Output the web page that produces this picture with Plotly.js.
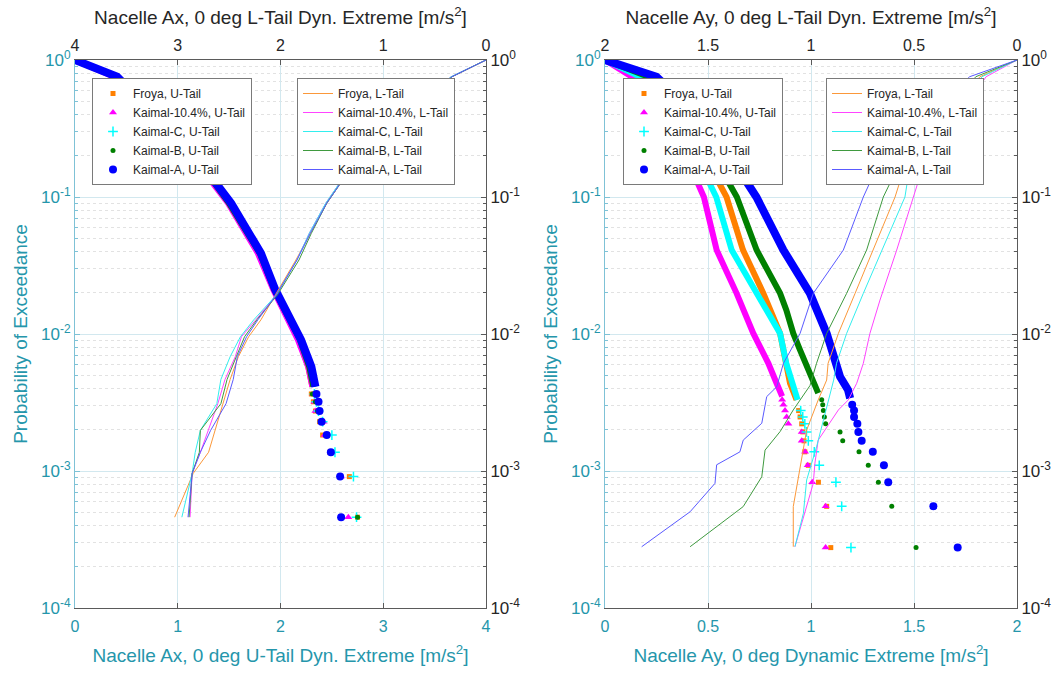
<!DOCTYPE html>
<html><head><meta charset="utf-8">
<script src="https://cdn.plot.ly/plotly-3.0.1.min.js"></script>
<style>html,body{margin:0;padding:0;background:#fff}#chart{width:1063px;height:674px}</style>
</head><body><div id="chart"></div>
<script>
// ================= DATA =================
const seriesNames = ['Froya', 'Kaimal-10.4%', 'Kaimal-C', 'Kaimal-B', 'Kaimal-A'];
const yTickVals = [0.0001, 0.001, 0.01, 0.1, 1];
const yTickText = ['10<sup>-4</sup>', '10<sup>-3</sup>', '10<sup>-2</sup>', '10<sup>-1</sup>', '10<sup>0</sup>'];
const axTickVals = [0, 1, 2, 3, 4];
const ayTickVals = [0, 0.5, 1, 1.5, 2];
const ayTickText = ['0', '0.5', '1', '1.5', '2'];

// ---- Left panel: Nacelle Ax, U-tail (dense part of the sample) ----
const axUDenseP     = [1, 0.755, 0.35, 0.145, 0.09, 0.0574, 0.0388, 0.021, 0.0134, 0.00904, 0.00577, 0.00412];
const axUDenseFroya = [0, 0.40, 0.84, 1.29, 1.50, 1.66, 1.79, 1.94, 2.07, 2.18, 2.27, 2.31];
const axUDenseK104  = [0, 0.38, 0.82, 1.28, 1.49, 1.65, 1.78, 1.93, 2.06, 2.17, 2.27, 2.31];
const axUDenseKC    = [0, 0.40, 0.84, 1.30, 1.51, 1.67, 1.80, 1.95, 2.08, 2.19, 2.29, 2.33];
const axUDenseKB    = [0, 0.40, 0.84, 1.30, 1.50, 1.66, 1.80, 1.94, 2.07, 2.19, 2.28, 2.32];
const axUDenseKA    = [0, 0.41, 0.85, 1.31, 1.52, 1.68, 1.81, 1.95, 2.08, 2.20, 2.30, 2.34];
// ---- Left panel: U-tail (sparse extreme points) ----
const axUTailP     = [0.00365, 0.0032, 0.00274, 0.00229, 0.00183, 0.00137, 0.00091, 0.00046];
const axUTailFroya = [2.30, 2.32, 2.34, 2.38, 2.41, 2.48, 2.67, 2.75];
const axUTailK104  = [2.32, 2.33, 2.34, 2.42, 2.43, 2.50, 2.59, 2.66];
const axUTailKC    = [2.33, 2.35, 2.37, 2.41, 2.50, 2.53, 2.71, 2.74];
const axUTailKB    = [2.31, 2.34, 2.36, 2.40, 2.44, 2.49, 2.58, 2.75];
const axUTailKA    = [2.35, 2.37, 2.38, 2.40, 2.45, 2.49, 2.58, 2.59];
// ---- Left panel: L-tail (top axis, reversed) ----
const axLP     = [1, 0.755, 0.35, 0.145, 0.09, 0.0543, 0.0347, 0.0193, 0.0127, 0.00955, 0.00683, 0.00466, 0.0031, 0.00198, 0.00137, 0.00096, 0.00046];
const axLFroya = [0, 0.33, 0.85, 1.36, 1.55, 1.71, 1.85, 2.05, 2.19, 2.31, 2.41, 2.49, 2.56, 2.64, 2.70, 2.85, 3.03];
const axLK104  = [0, 0.34, 0.86, 1.37, 1.56, 1.72, 1.84, 2.04, 2.24, 2.38, 2.44, 2.54, 2.61, 2.70, 2.78, 2.86, 2.88];
const axLKC    = [0, 0.34, 0.86, 1.37, 1.56, 1.72, 1.84, 2.04, 2.26, 2.39, 2.49, 2.58, 2.62, 2.78, 2.83, 2.86, 2.96];
const axLKB    = [0, 0.33, 0.85, 1.36, 1.55, 1.70, 1.82, 2.03, 2.23, 2.35, 2.43, 2.52, 2.58, 2.78, 2.79, 2.86, 2.89];
const axLKA    = [0, 0.33, 0.85, 1.36, 1.55, 1.71, 1.84, 2.04, 2.22, 2.33, 2.42, 2.46, 2.53, 2.68, 2.78, 2.86, 2.90];

// ---- Right panel: Nacelle Ay, U-tail dense part ----
const ayUDensePFroya = [1, 0.755, 0.30, 0.1, 0.041, 0.0198, 0.0101, 0.00611, 0.00437, 0.0033];
const ayUDenseFroya  = [0, 0.19, 0.42, 0.59, 0.67, 0.769, 0.85, 0.88, 0.898, 0.93];
const ayUDensePK104  = [1, 0.755, 0.30, 0.1, 0.041, 0.0198, 0.0101, 0.00611, 0.00437, 0.0035];
const ayUDenseK104   = [0, 0.13, 0.34, 0.48, 0.542, 0.639, 0.72, 0.793, 0.833, 0.86];
const ayUDensePKC    = [1, 0.755, 0.30, 0.1, 0.041, 0.0198, 0.0101, 0.00611, 0.00437, 0.0033];
const ayUDenseKC     = [0, 0.17, 0.385, 0.54, 0.615, 0.736, 0.85, 0.88, 0.914, 0.935];
const ayUDensePKB    = [1, 0.755, 0.30, 0.1, 0.041, 0.0198, 0.015, 0.0101, 0.00764, 0.00533, 0.00437, 0.0037];
const ayUDenseKB     = [0, 0.21, 0.46, 0.64, 0.736, 0.85, 0.88, 0.914, 0.947, 0.987, 1.01, 1.035];
const ayUDensePKA    = [1, 0.755, 0.30, 0.1, 0.041, 0.0198, 0.0101, 0.00855, 0.00611, 0.00488, 0.0039, 0.0034];
const ayUDenseKA     = [0, 0.25, 0.53, 0.735, 0.866, 0.995, 1.076, 1.09, 1.125, 1.141, 1.18, 1.19];
// ---- Right panel: U-tail sparse extreme points ----
const ayUTailPFroya = [0.00276, 0.00248, 0.00221, 0.00193, 0.00166, 0.00138, 0.0011, 0.000828, 0.000552, 0.000276];
const ayUTailFroya  = [0.94, 0.947, 0.955, 0.96, 0.966, 0.97, 0.987, 1.036, 1.076, 1.096];
const ayUTailPK104  = [0.00331, 0.00304, 0.00276, 0.00248, 0.00221, 0.00193, 0.00166, 0.00138, 0.0011, 0.000828, 0.000552, 0.000276];
const ayUTailK104   = [0.86, 0.866, 0.874, 0.882, 0.89, 0.955, 0.955, 0.971, 0.984, 1.006, 1.071, 1.071];
const ayUTailPKC    = [0.00276, 0.00248, 0.00221, 0.00193, 0.00166, 0.00138, 0.0011, 0.000828, 0.000552, 0.000276];
const ayUTailKC     = [0.95, 0.96, 0.97, 0.978, 0.987, 1.016, 1.04, 1.121, 1.149, 1.194];
const ayUTailPKB    = [0.00331, 0.00304, 0.00276, 0.00248, 0.00221, 0.00193, 0.00166, 0.00138, 0.0011, 0.000828, 0.000552, 0.000276];
const ayUTailKB     = [1.052, 1.057, 1.06, 1.065, 1.071, 1.141, 1.154, 1.233, 1.278, 1.327, 1.392, 1.51];
const ayUTailPKA    = [0.00304, 0.00276, 0.00248, 0.00221, 0.00193, 0.00166, 0.00138, 0.0011, 0.000828, 0.000552, 0.000276];
const ayUTailKA     = [1.20, 1.209, 1.209, 1.225, 1.23, 1.246, 1.30, 1.354, 1.375, 1.594, 1.712];
// ---- Right panel: L-tail (top axis, reversed) ----
const ayLPFroya = [1, 0.755, 0.30, 0.142, 0.1, 0.041, 0.0198, 0.0101, 0.00611, 0.00461, 0.0033, 0.00199, 0.00102, 0.00055, 0.00028];
const ayLFroya  = [0, 0.18, 0.40, 0.56, 0.592, 0.697, 0.786, 0.867, 0.917, 0.924, 0.965, 1.021, 1.053, 1.086, 1.086];
const ayLPK104  = [1, 0.755, 0.30, 0.142, 0.1, 0.041, 0.0177, 0.0101, 0.00611, 0.00437, 0.0033, 0.00279, 0.00168, 0.00114, 0.000813, 0.00028];
const ayLK104   = [0, 0.15, 0.33, 0.471, 0.503, 0.584, 0.665, 0.714, 0.746, 0.778, 0.819, 0.867, 0.965, 0.981, 0.989, 1.078];
const ayLPKC    = [1, 0.755, 0.30, 0.142, 0.1, 0.041, 0.0198, 0.0101, 0.00611, 0.00461, 0.00294, 0.0015, 0.00086, 0.00049, 0.00028];
const ayLKC     = [0, 0.17, 0.37, 0.528, 0.544, 0.657, 0.746, 0.827, 0.876, 0.89, 0.924, 0.973, 1.021, 1.037, 1.078];
const ayLPKB    = [1, 0.755, 0.30, 0.142, 0.1, 0.041, 0.0198, 0.0101, 0.00611, 0.0042, 0.00279, 0.00194, 0.00142, 0.000908, 0.00055, 0.00028];
const ayLKB     = [0, 0.20, 0.42, 0.60, 0.649, 0.73, 0.827, 0.924, 0.973, 1.005, 1.086, 1.15, 1.223, 1.239, 1.329, 1.587];
const ayLPKA    = [1, 0.755, 0.30, 0.142, 0.1, 0.041, 0.0198, 0.0101, 0.00611, 0.00412, 0.00349, 0.00223, 0.00168, 0.00138, 0.00111, 0.000813, 0.000504, 0.00028];
const ayLKA     = [0, 0.23, 0.50, 0.70, 0.746, 0.843, 0.989, 1.053, 1.134, 1.166, 1.215, 1.239, 1.329, 1.345, 1.458, 1.466, 1.587, 1.822];

// ================= STYLE =================
const FONT = '"Liberation Sans", Arial, Helvetica, sans-serif';
const teal = '#2596ab';
const dark = '#262626';
const axisGray = '#5a5a5a';
const leftLine = '#7fc2d6';
const colors  = ['#ff8000', '#ff00ff', '#00ffff', '#008000', '#0000ff'];
const lineCol = ['#fb983a', '#ff44ff', '#33eeee', '#3f9a3f', '#5a5aff'];
const markers = [
  {symbol: 'square', size: 5, color: colors[0]},
  {symbol: 'triangle-up', size: 7, color: colors[1]},
  {symbol: 'cross-thin', size: 7, color: colors[2], line: {color: colors[2], width: 1.5}},
  {symbol: 'circle', size: 5, color: colors[3]},
  {symbol: 'circle', size: 8, color: colors[4]}
];
const bandWidth = [6, 6, 6, 6, 8];

const minorVals = [];
for (let e = -4; e < 0; e++) for (let m = 2; m <= 9; m++) minorVals.push(m * Math.pow(10, e));

// ================= TRACES =================
const traces = [];
function addU(i, dx, dp, tx, tp, xa, ya, lg) {
  traces.push({type: 'scatter', mode: 'lines', x: dx, y: dp, xaxis: xa, yaxis: ya,
    line: {color: colors[i], width: bandWidth[i]}, showlegend: false, hoverinfo: 'skip'});
  traces.push({type: 'scatter', mode: 'markers', name: seriesNames[i] + ', U-Tail', x: tx, y: tp,
    xaxis: xa, yaxis: ya, marker: markers[i], legend: lg});
}
function addL(i, lx, lp, xa, ya, lg) {
  traces.push({type: 'scatter', mode: 'lines', name: seriesNames[i] + ', L-Tail', x: lx, y: lp,
    xaxis: xa, yaxis: ya, line: {color: lineCol[i], width: 1}, legend: lg});
}
// left panel
addU(0, axUDenseFroya, axUDenseP, axUTailFroya, axUTailP, 'x', 'y', 'legend');
addU(1, axUDenseK104,  axUDenseP, axUTailK104,  axUTailP, 'x', 'y', 'legend');
addU(2, axUDenseKC,    axUDenseP, axUTailKC,    axUTailP, 'x', 'y', 'legend');
addU(3, axUDenseKB,    axUDenseP, axUTailKB,    axUTailP, 'x', 'y', 'legend');
addU(4, axUDenseKA,    axUDenseP, axUTailKA,    axUTailP, 'x', 'y', 'legend');
addL(0, axLFroya, axLP, 'x2', 'y', 'legend2');
addL(1, axLK104,  axLP, 'x2', 'y', 'legend2');
addL(2, axLKC,    axLP, 'x2', 'y', 'legend2');
addL(3, axLKB,    axLP, 'x2', 'y', 'legend2');
addL(4, axLKA,    axLP, 'x2', 'y', 'legend2');
// right panel
addU(0, ayUDenseFroya, ayUDensePFroya, ayUTailFroya, ayUTailPFroya, 'x3', 'y3', 'legend3');
addU(1, ayUDenseK104,  ayUDensePK104,  ayUTailK104,  ayUTailPK104,  'x3', 'y3', 'legend3');
addU(2, ayUDenseKC,    ayUDensePKC,    ayUTailKC,    ayUTailPKC,    'x3', 'y3', 'legend3');
addU(3, ayUDenseKB,    ayUDensePKB,    ayUTailKB,    ayUTailPKB,    'x3', 'y3', 'legend3');
addU(4, ayUDenseKA,    ayUDensePKA,    ayUTailKA,    ayUTailPKA,    'x3', 'y3', 'legend3');
addL(0, ayLFroya, ayLPFroya, 'x4', 'y3', 'legend4');
addL(1, ayLK104,  ayLPK104,  'x4', 'y3', 'legend4');
addL(2, ayLKC,    ayLPKC,    'x4', 'y3', 'legend4');
addL(3, ayLKB,    ayLPKB,    'x4', 'y3', 'legend4');
addL(4, ayLKA,    ayLPKA,    'x4', 'y3', 'legend4');
// right-hand log axes (labels only)
traces.push({type: 'scatter', mode: 'markers', x: [], y: [], xaxis: 'x', yaxis: 'y2', showlegend: false});
traces.push({type: 'scatter', mode: 'markers', x: [], y: [], xaxis: 'x3', yaxis: 'y4', showlegend: false});

// ================= LAYOUT =================
const W = 1063, H = 674;
const mL = 75, mR = 46, mT = 60, mB = 66;
const pw = W - mL - mR, ph = H - mT - mB;
const px = v => (v - mL) / pw;
const py = v => (H - mB - v) / ph;

function yLeft(anchor) {
  return {type: 'log', range: [-4, 0], domain: [0, 1], anchor: anchor,
    tickmode: 'array', tickvals: yTickVals, ticktext: yTickText,
    ticks: 'inside', ticklen: 5, tickcolor: leftLine, showline: true, linecolor: leftLine, linewidth: 1,
    showgrid: true, gridcolor: '#d2e8ef', gridwidth: 1, zeroline: false,
    minor: {tickvals: minorVals, ticks: 'inside', ticklen: 3, tickcolor: leftLine,
            showgrid: true, gridcolor: '#e2e2e2', griddash: 'dot', gridwidth: 1},
    tickfont: {size: 17, color: teal, family: FONT},
    title: {text: 'Probability of Exceedance', font: {size: 19, color: teal, family: FONT}, standoff: 8}};
}
function yRight(over, anchor) {
  return {type: 'log', range: [-4, 0], overlaying: over, side: 'right', anchor: anchor,
    tickmode: 'array', tickvals: yTickVals, ticktext: yTickText,
    ticks: 'inside', ticklen: 5, tickcolor: axisGray, showline: true, linecolor: axisGray, linewidth: 1,
    showgrid: false, zeroline: false,
    minor: {tickvals: minorVals, ticks: 'inside', ticklen: 3, tickcolor: axisGray, showgrid: false},
    tickfont: {size: 17, color: dark, family: FONT}};
}
function xBottom(domain, range, tv, tt, anchor, title) {
  return {domain: domain, range: range, anchor: anchor, tickmode: 'array', tickvals: tv, ticktext: tt,
    ticks: 'inside', ticklen: 5, tickcolor: axisGray, showline: true, linecolor: axisGray, linewidth: 1,
    showgrid: true, gridcolor: '#d2e8ef', gridwidth: 1, zeroline: false, ticklabelstandoff: 4,
    tickfont: {size: 16, color: teal, family: FONT},
    title: {text: title, font: {size: 19, color: teal, family: FONT}, standoff: 14}};
}
function xTop(over, range, tv, tt, anchor, title) {
  return {overlaying: over, side: 'top', range: range, anchor: anchor, tickmode: 'array', tickvals: tv, ticktext: tt,
    ticks: 'inside', ticklen: 5, tickcolor: axisGray, showline: true, linecolor: axisGray, linewidth: 1,
    showgrid: false, zeroline: false, ticklabelstandoff: 2,
    tickfont: {size: 16, color: dark, family: FONT},
    title: {text: title, font: {size: 19, color: dark, family: FONT}, standoff: 6}};
}
function legendAt(x) {
  return {x: px(x), y: py(78), xanchor: 'left', yanchor: 'top', bgcolor: '#ffffff',
    bordercolor: '#7a7a7a', borderwidth: 1, font: {size: 12, color: dark, family: FONT}, tracegroupgap: 0};
}

const layout = {
  width: W, height: H, margin: {l: mL, r: mR, t: mT, b: mB},
  paper_bgcolor: '#ffffff', plot_bgcolor: '#ffffff',
  font: {family: FONT, color: dark},
  hovermode: false,
  xaxis:  xBottom([0, px(486)], [0, 4], axTickVals, ['0', '1', '2', '3', '4'], 'y',
                  'Nacelle Ax, 0 deg U-Tail Dyn. Extreme [m/s<sup>2</sup>]'),
  xaxis2: xTop('x', [4, 0], axTickVals, ['0', '1', '2', '3', '4'], 'y',
               'Nacelle Ax, 0 deg L-Tail Dyn. Extreme [m/s<sup>2</sup>]'),
  yaxis:  yLeft('x'),
  yaxis2: yRight('y', 'x'),
  xaxis3: xBottom([px(605), 1], [0, 2], ayTickVals, ayTickText, 'y3',
                  'Nacelle Ay, 0 deg Dynamic Extreme [m/s<sup>2</sup>]'),
  xaxis4: xTop('x3', [2, 0], ayTickVals, ayTickText, 'y3',
               'Nacelle Ay, 0 deg L-Tail Dyn. Extreme [m/s<sup>2</sup>]'),
  yaxis3: yLeft('x3'),
  yaxis4: yRight('y3', 'x3'),
  legend:  legendAt(92),
  legend2: legendAt(297),
  legend3: legendAt(623),
  legend4: legendAt(826)
};

Plotly.newPlot('chart', traces, layout, {displayModeBar: false, staticPlot: true});
</script>
</body></html>
